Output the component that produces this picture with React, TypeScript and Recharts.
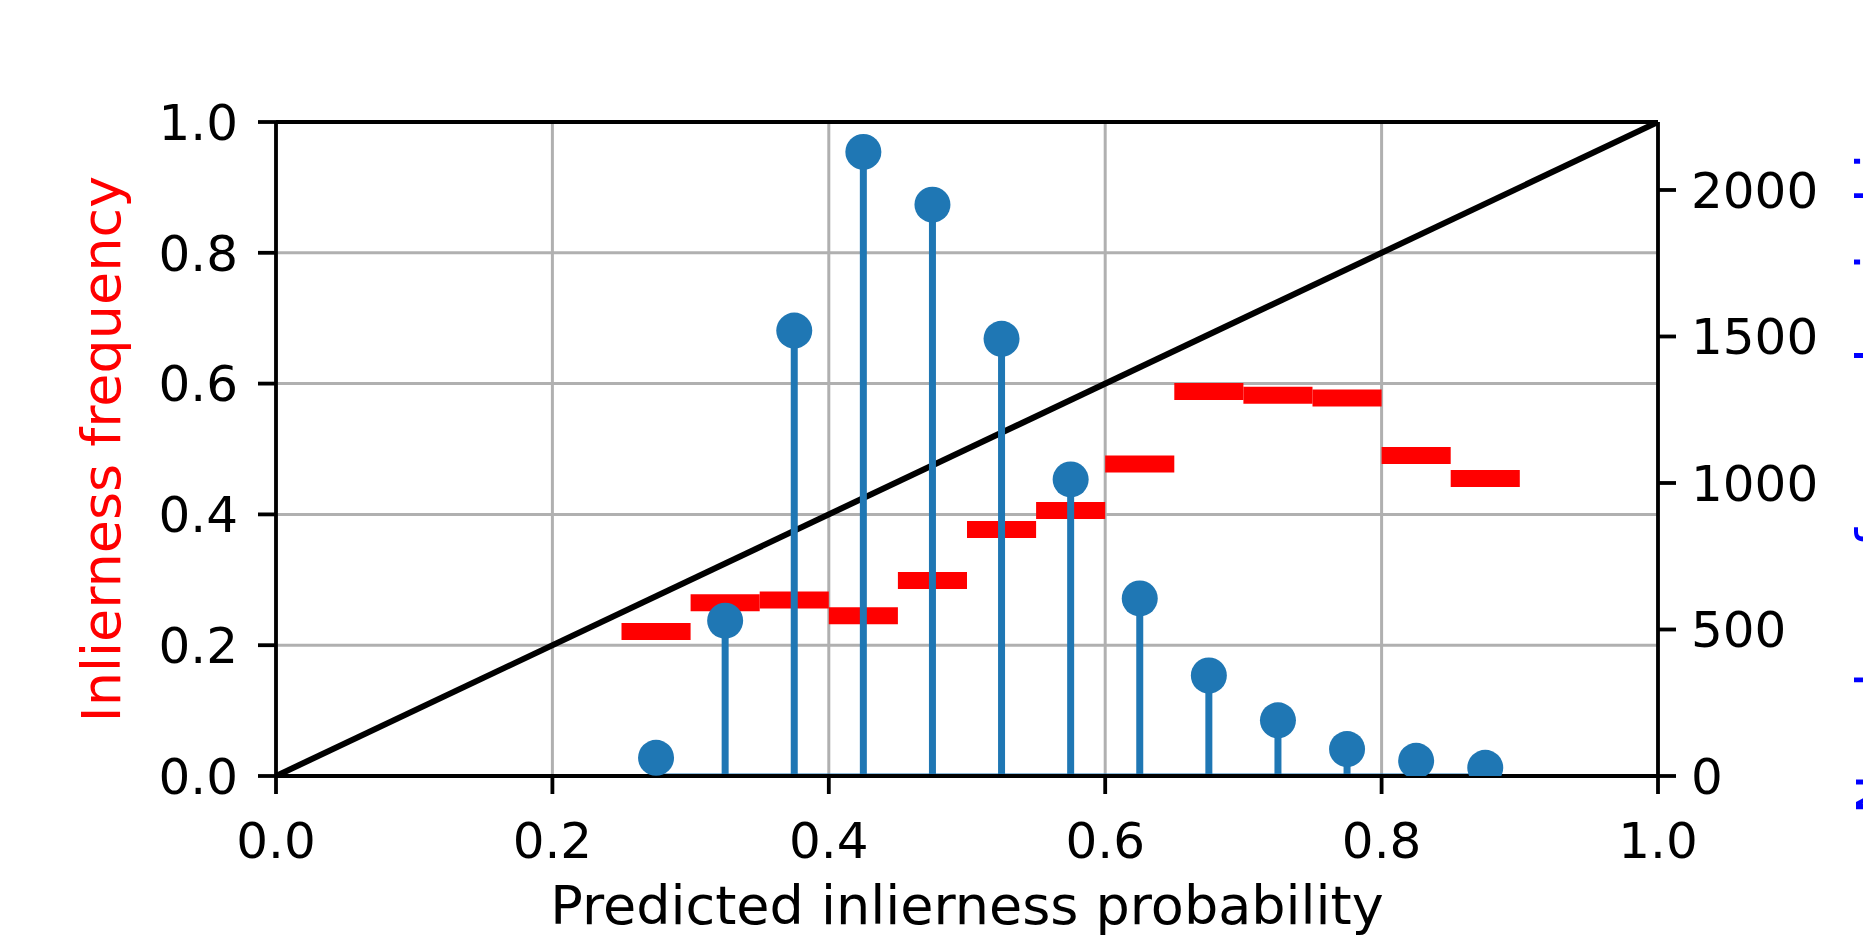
import React from 'react'
import {
  ComposedChart, Line, Scatter, XAxis, YAxis, CartesianGrid,
} from 'recharts'

// bin edges of the predicted probability (0.05 wide)
const binEdges = [0.25, 0.30, 0.35, 0.40, 0.45, 0.50, 0.55, 0.60, 0.65, 0.70, 0.75, 0.80, 0.85, 0.90]
const binCenters = [0.275, 0.325, 0.375, 0.425, 0.475, 0.525, 0.575, 0.625, 0.675, 0.725, 0.775, 0.825, 0.875]
// observed inlier frequency per bin (left axis)
const inlierFreq = [0.221, 0.265, 0.269, 0.245, 0.299, 0.377, 0.406, 0.477, 0.588, 0.582, 0.578, 0.490, 0.455]
// samples per bin (right axis)
const binCounts = [62, 530, 1520, 2130, 1950, 1492, 1012, 606, 343, 190, 92, 52, 28]

const xTicks = [0, 0.2, 0.4, 0.6, 0.8, 1.0]
const leftTicks = [0, 0.2, 0.4, 0.6, 0.8, 1.0]
const rightTicks = [0, 500, 1000, 1500, 2000]

const W = 1863
const H = 936
const FONT = '"DejaVu Sans", sans-serif'
const BLUE = '#1f77b4'

const tickStyle = { fontSize: 50, fill: '#000', fontFamily: FONT }

const diagonal = [{ x: 0, f: 0 }, { x: 1, f: 1 }]
const segments = inlierFreq.map((f, i) => [
  { x: binEdges[i], f },
  { x: binEdges[i + 1], f },
])
const stems = binCenters.map((x, i) => [{ x, c: 0 }, { x, c: binCounts[i] }])
const heads = binCenters.map((x, i) => ({ x, c: binCounts[i] }))
const baseline = [{ x: binCenters[0], c: 0 }, { x: binCenters[binCenters.length - 1], c: 0 }]

export default function App() {
  return (
    <div style={{ position: 'absolute', left: 0, top: 0, width: W, height: H, background: '#fff' }}>
      <ComposedChart width={W} height={H} margin={{ top: 121, right: 0, bottom: 0, left: 0 }}>
        <CartesianGrid yAxisId="left" stroke="#b0b0b0" strokeWidth={3} />
        <XAxis
          dataKey="x" type="number" domain={[0, 1]} ticks={xTicks} allowDataOverflow
          tickFormatter={v => v.toFixed(1)} tick={tickStyle}
          height={160} tickSize={18} tickMargin={28}
          axisLine={{ stroke: '#000', strokeWidth: 3.8 }}
          tickLine={{ stroke: '#000', strokeWidth: 3.8 }}
        />
        <XAxis
          xAxisId="top" orientation="top" dataKey="x" type="number" domain={[0, 1]} height={1}
          tick={false} tickLine={false} axisLine={{ stroke: '#000', strokeWidth: 3.8 }}
        />
        <YAxis
          yAxisId="left" dataKey="f" type="number" domain={[0, 1]} ticks={leftTicks} allowDataOverflow
          tickFormatter={v => v.toFixed(1)} tick={tickStyle}
          width={276} tickSize={18} tickMargin={20}
          axisLine={{ stroke: '#000', strokeWidth: 3.8 }}
          tickLine={{ stroke: '#000', strokeWidth: 3.8 }}
        />
        <YAxis
          yAxisId="right" orientation="right" dataKey="c" type="number" domain={[0, 2232]} ticks={rightTicks}
          allowDataOverflow tick={tickStyle}
          width={205} tickSize={18} tickMargin={15}
          axisLine={{ stroke: '#000', strokeWidth: 3.8 }}
          tickLine={{ stroke: '#000', strokeWidth: 3.8 }}
        />

        <Line
          yAxisId="left" data={diagonal} dataKey="f" stroke="#000" strokeWidth={6}
          dot={false} activeDot={false} isAnimationActive={false}
        />
        {segments.map((seg, i) => (
          <Line
            key={'seg' + i} yAxisId="left" data={seg} dataKey="f" stroke="#ff0000" strokeWidth={17}
            dot={false} activeDot={false} isAnimationActive={false}
          />
        ))}
        <Line
          yAxisId="right" data={baseline} dataKey="c" stroke={BLUE} strokeWidth={5}
          dot={false} activeDot={false} isAnimationActive={false}
        />
        {stems.map((s, i) => (
          <Line
            key={'stem' + i} yAxisId="right" data={s} dataKey="c" stroke={BLUE} strokeWidth={7}
            dot={false} activeDot={false} isAnimationActive={false}
          />
        ))}
        <Scatter
          yAxisId="right" data={heads} dataKey="c" fill={BLUE} isAnimationActive={false}
          shape={(p: any) => <circle cx={p.cx} cy={p.cy} r={18} fill={BLUE} />}
        />

        <text x={120} y={449} transform="rotate(-90 120 449)" textAnchor="middle"
          fontSize={54} fontFamily={FONT} fill="#ff0000">Inlierness frequency</text>
        <text x={967} y={924} textAnchor="middle" fontSize={54} fontFamily={FONT} fill="#000">
          Predicted inlierness probability
        </text>
        <text x={1895} y={467} transform="rotate(-90 1895 467)" textAnchor="middle"
          fontSize={54} fontFamily={FONT} fill="#0000ff">Number of samples in bin</text>
      </ComposedChart>
    </div>
  )
}
